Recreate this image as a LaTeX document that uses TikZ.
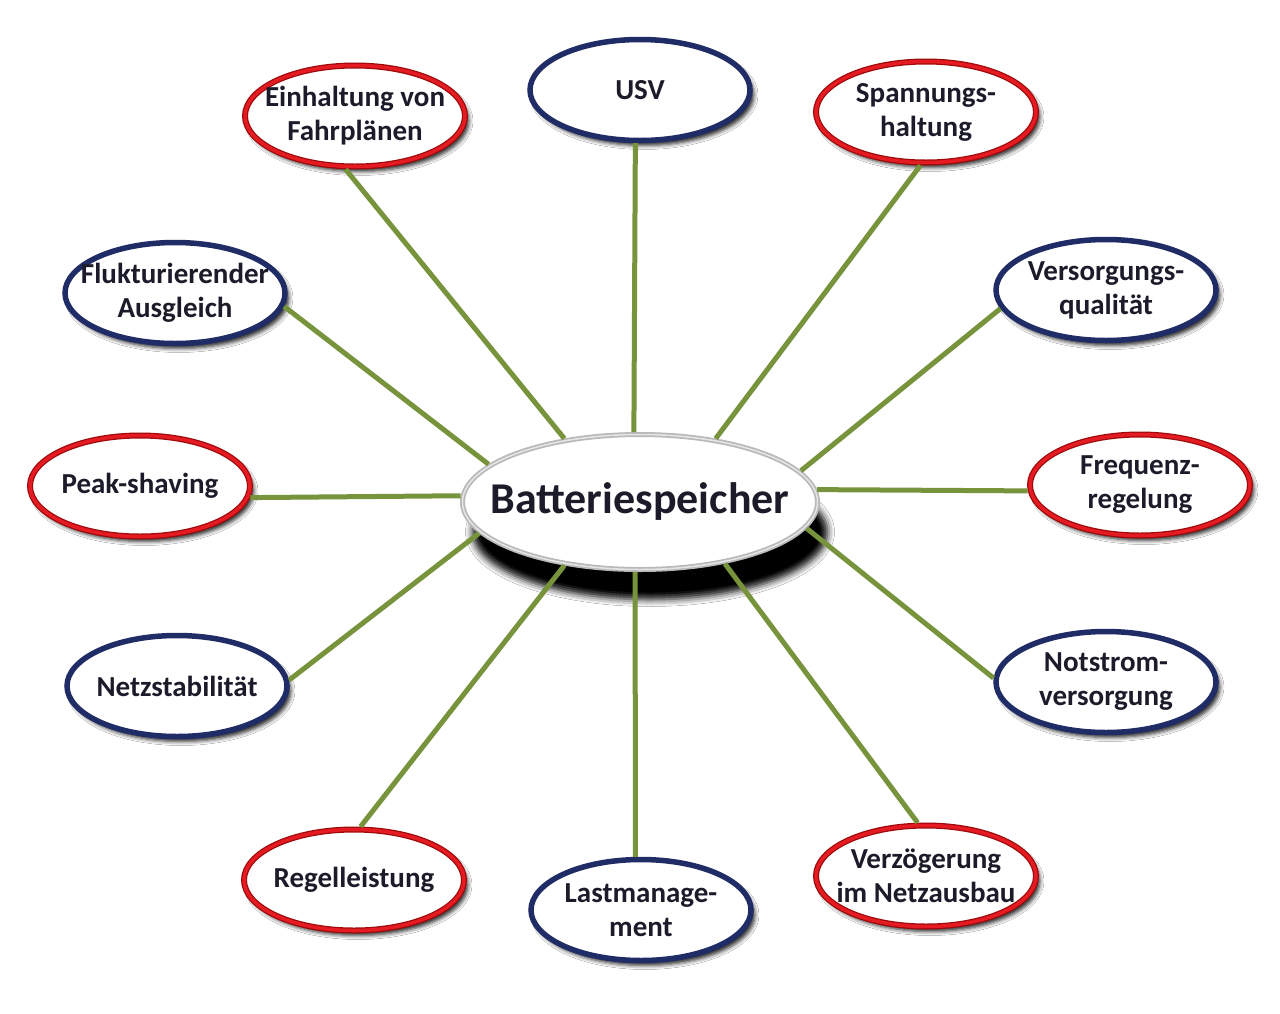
\documentclass[tikz,border=0pt]{standalone}
\usepackage{fontspec}
\setmainfont{Carlito}
\usetikzlibrary{shapes.geometric,shadows.blur}
\definecolor{txt}{HTML}{1B1B2A}
\definecolor{grn}{HTML}{77933C}
\definecolor{redin}{HTML}{E41B22}
\definecolor{redout}{HTML}{9E0A0A}
\definecolor{navy}{HTML}{1F2C66}
\tikzset{
  outer/.style={ellipse, minimum width=220pt, minimum height=101pt,
    inner xsep=-30pt, inner ysep=-8pt,
    fill=white, align=center, text=txt, font=\fontsize{29}{34}\selectfont\bfseries,
    blur shadow={shadow xshift=4pt, shadow yshift=-5pt, shadow blur radius=4pt, shadow opacity=85}},
  redbox/.style={outer, draw=redout, line width=6pt,
    postaction={draw=redin, line width=3.5pt}},
  bluebox/.style={outer, draw=navy, line width=5.5pt},
  centre/.style={ellipse, minimum width=355pt, minimum height=135pt,
    inner xsep=-60pt, inner ysep=-10pt,
    fill=white, draw=gray!55, line width=5pt, text=txt,
    font=\fontsize{44}{50}\selectfont\bfseries,
    postaction={draw=gray!20, line width=1.5pt},
    blur shadow={shadow xshift=10pt, shadow yshift=-30pt, shadow blur radius=7pt, shadow opacity=100}},
  link/.style={draw=grn, line width=5pt}
}
\begin{document}
\begin{tikzpicture}[x=1pt,y=-1pt]
\useasboundingbox[fill=white] (0,0) rectangle (1280,1013);
\node[centre] (c) at (640,502) {Batteriespeicher};
\node[redbox]  (n1)  at (355,116) {Einhaltung von\\Fahrplänen};
\node[bluebox] (n2)  at (640,90)  {USV};
\node[redbox]  (n3)  at (926,112) {Spannungs-\\haltung};
\node[bluebox] (n4)  at (1106,290) {Versorgungs-\\qualität};
\node[redbox]  (n5)  at (1140,485) {Frequenz-\\regelung};
\node[bluebox] (n6)  at (1106,682) {Notstrom-\\versorgung};
\node[redbox]  (n7)  at (926,876) {Verzögerung\\im Netzausbau};
\node[bluebox] (n8)  at (641,910) {Lastmanage-\\ment};
\node[redbox]  (n9)  at (354,880) {Regelleistung};
\node[bluebox] (n10) at (177,686) {Netzstabilität};
\node[redbox]  (n11) at (140,486) {Peak-shaving};
\node[bluebox] (n12) at (175,293) {Flukturierender\\Ausgleich};
\draw[link] (n1.-100) -- (c.140);
\draw[link] (n2.-95) -- (c.95);
\draw[link] (n3.-96) -- (c.40);
\draw[link] (n4.-170) -- (c.11);
\draw[link] (n5.-177) -- (c.4);
\draw[link] (n6.178) -- (c.-9);
\draw[link] (n7.99) -- (c.-36);
\draw[link] (n8.96) -- (c.-94);
\draw[link] (n9.83) -- (c.-140);
\draw[link] (n10.3) -- (c.-169);
\draw[link] (n11.-6) -- (c.178);
\draw[link] (n12.-7.5) -- (c.166);
\end{tikzpicture}
\end{document}
